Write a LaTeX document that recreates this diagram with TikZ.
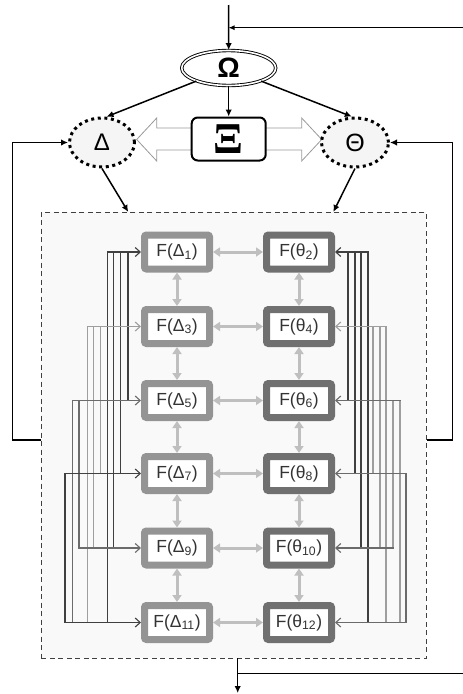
\documentclass[tikz,border=0pt]{standalone}
\usepackage{fontspec}
\setmainfont{Liberation Sans}
\newfontfamily\serifgr{Liberation Serif}
\usetikzlibrary{arrows.meta,shapes.geometric,calc}
\begin{document}
\begin{tikzpicture}[x=1pt,y=-1pt,
  blk/.style={line width=1.5pt,draw=black},
  arr/.style={-{Latex[length=7pt,width=6.5pt]}},
  fbox/.style={draw, line width=7pt, rounded corners=2pt, fill=white, minimum width=65pt, minimum height=34pt, inner sep=0pt, font=\fontsize{17.5}{20}\selectfont, text=black!80},
  fl/.style={fbox, draw=black!42},
  fr/.style={fbox, draw=black!56},
  gcon/.style={draw=black!25, line width=3pt, {Triangle[length=7pt,width=9pt]}-{Triangle[length=7pt,width=9pt]}},
  lnkdark/.style={draw=black!75, line width=1.1pt, line cap=rect},
  lnklight/.style={draw=black!38, line width=1.1pt, line cap=rect},
  lnkmid/.style={draw=black!58, line width=1.1pt, line cap=rect},
  bustip/.style={-{Straight Barb[length=5pt,width=9pt]}},
  greek/.style={ellipse, draw, line width=3pt, dash pattern=on 3pt off 3.6pt, fill=black!4, inner sep=0pt}
]
\useasboundingbox (0,0) rectangle (463,694);

% dashed frame
\node[draw=black!75, line width=1.2pt, dash pattern=on 5pt off 3.5pt, fill=black!2.5, minimum width=385pt, minimum height=446pt, inner sep=0pt] (box) at (233.85,435.15) {};

% hollow arrows from Xi
\draw[draw=black!40, line width=0.8pt, fill=white] (192,128) -- (156.7,128) -- (156.7,118) -- (136.7,139.5) -- (156.7,161) -- (156.7,150) -- (192,150);
\draw[draw=black!40, line width=0.8pt, fill=white] (265,128) -- (301.7,128) -- (301.7,118) -- (321.7,139.5) -- (301.7,161) -- (301.7,150) -- (265,150);

% top nodes
\node[draw, double, double distance=1.6pt, line width=0.9pt, ellipse, minimum width=94pt, minimum height=35pt, inner sep=0pt, fill=white, font=\bfseries\fontsize{28}{30}\selectfont] (O) at (228.7,68) {Ω};
\node[greek, minimum width=65pt, minimum height=49pt, font=\fontsize{24}{26}\selectfont] (D) at (102,142.5) {Δ};
\node[greek, minimum width=67pt, minimum height=49pt, font=\fontsize{25}{27}\selectfont] (T) at (355,142.5) {Θ};
\node[draw, line width=2pt, rounded corners=6pt, fill=white, minimum width=74pt, minimum height=43pt, inner sep=0pt, font=\serifgr\bfseries\fontsize{44}{46}\selectfont] (X) at (228.7,139) {Ξ};

% F boxes
\node[fl] (D1) at (177,252) {F(Δ\textsubscript{1})};
\node[fl] (D3) at (177,326.5) {F(Δ\textsubscript{3})};
\node[fl] (D5) at (177,400.5) {F(Δ\textsubscript{5})};
\node[fl] (D7) at (177,473.5) {F(Δ\textsubscript{7})};
\node[fl] (D9) at (177,548) {F(Δ\textsubscript{9})};
\node[fl] (D11) at (177,622.5) {F(Δ\textsubscript{11})};
\node[fr] (T2) at (299,252) {F(θ\textsubscript{2})};
\node[fr] (T4) at (299,326.5) {F(θ\textsubscript{4})};
\node[fr] (T6) at (299,400.5) {F(θ\textsubscript{6})};
\node[fr] (T8) at (299,473.5) {F(θ\textsubscript{8})};
\node[fr] (T10) at (299,548) {F(θ\textsubscript{10})};
\node[fr] (T12) at (299,622.5) {F(θ\textsubscript{12})};

% gray double arrows
\foreach \a/\b in {D1/T2,D3/T4,D5/T6,D7/T8,D9/T10,D11/T12,D1/D3,D3/D5,D5/D7,D7/D9,D9/D11,T2/T4,T4/T6,T6/T8,T8/T10,T10/T12}
  \draw[gcon] (\a) -- (\b);

% left bundle
\foreach \x/\a/\b/\s in {128/D1/D5/lnkdark, 120.5/D1/D7/lnkdark, 113.5/D1/D9/lnkdark, 107.7/D1/D11/lnkdark, 100.5/D3/D7/lnklight, 93.5/D3/D9/lnklight, 87.3/D3/D11/lnklight, 79/D5/D9/lnkmid, 72.3/D5/D11/lnkmid, 65/D7/D11/lnkdark}
  \draw[\s] (\x,0 |- \a.center) -- (\x,0 |- \b.center);
\foreach \x/\a/\s in {107.7/D1/lnkdark, 87.3/D3/lnklight, 72.3/D5/lnkmid, 65/D7/lnkdark, 79/D9/lnkmid, 65/D11/lnkdark}
  \draw[\s, bustip] (\x,0 |- \a.center) -- (\a.west);

% right bundle
\foreach \x/\a/\b/\s in {348/T2/T6/lnkdark, 355/T2/T8/lnkdark, 361/T2/T10/lnkdark, 368/T2/T12/lnkdark, 373/T4/T8/lnklight, 380/T4/T10/lnklight, 386/T4/T12/lnklight, 393/T6/T10/lnklight, 400/T6/T12/lnklight, 406/T8/T12/lnkmid}
  \draw[\s] (\x,0 |- \a.center) -- (\x,0 |- \b.center);
\foreach \x/\a/\s in {368/T2/lnkdark, 386/T4/lnklight, 400/T6/lnkmid, 406/T8/lnkmid, 393/T10/lnkmid, 406/T12/lnkmid}
  \draw[\s, bustip] (\x,0 |- \a.center) -- (\a.east);

% top connectors
\coordinate (tin) at (228.5,5);
\coordinate (tj) at (228.5,27.7);
\coordinate (tr) at (463,27.7);
\draw[line width=1.1pt, -{Latex[length=6pt,width=5pt]}] (tr) -- (tj);
\draw[blk, arr] (tin) -- (O.north);
\draw[blk, arr] (O.202) -- (D.80);
\draw[blk, arr] (O.338) -- (T.97);
\draw[blk, arr] (O.south) -- (X.north);

% into frame
\coordinate (bD) at (128.3,212);
\coordinate (bT) at (333.3,212);
\draw[blk, arr] (D.south) -- (bD);
\draw[blk, arr] (T.south) -- (bT);

% feedback loops
\coordinate (lf) at (41.2,440);
\coordinate (rf) at (426.5,440);
\draw[blk, arr] (lf) -- (12.7,440) |- (D.west);
\draw[blk, arr] (rf) -- (452.7,440) |- (T.east);

% bottom output
\coordinate (bo) at (237.7,658.3);
\coordinate (bend) at (237.7,693);
\coordinate (bj) at (237.7,673.3);
\coordinate (br) at (463,673.3);
\draw[blk, arr] (bo) -- (bend);
\draw[line width=1.1pt] (br) -- (bj);
\end{tikzpicture}
\end{document}
